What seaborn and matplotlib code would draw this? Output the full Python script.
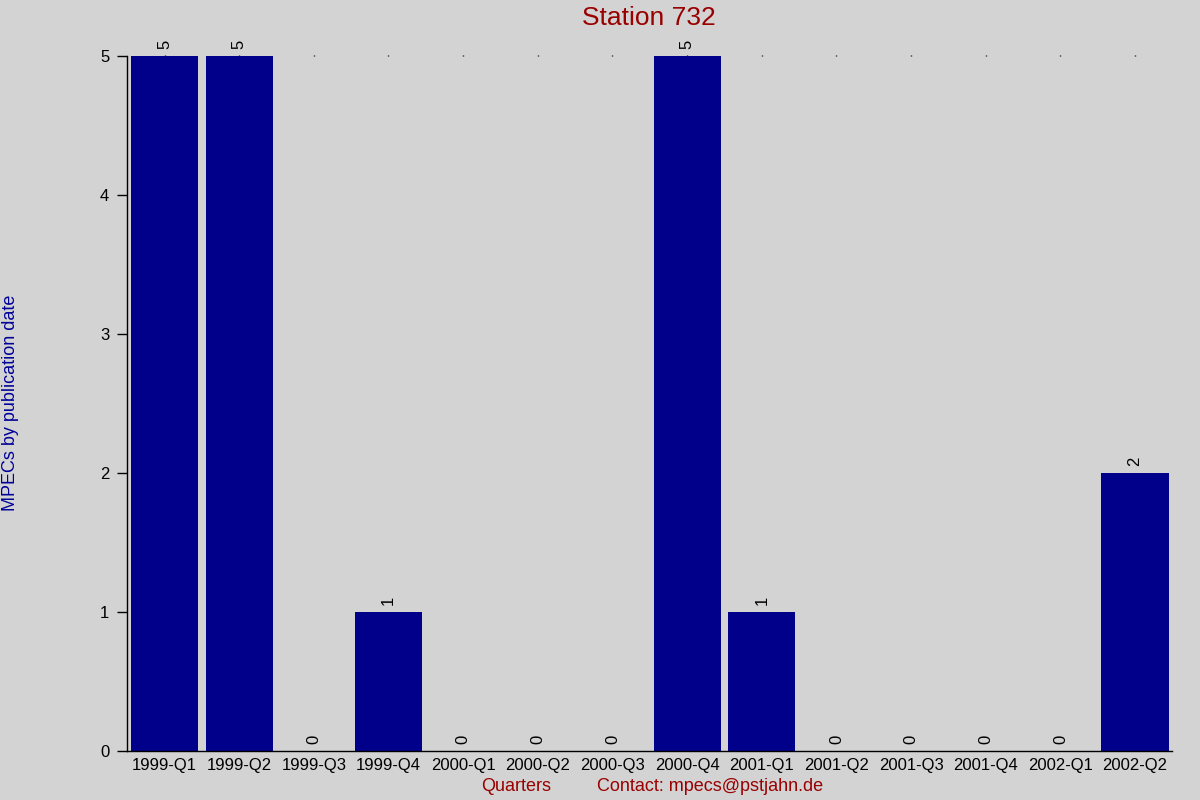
import numpy as np
import pandas as pd
import matplotlib
matplotlib.use("Agg")
import matplotlib.pyplot as plt
import seaborn as sns

quarters = ["1999-Q1", "1999-Q2", "1999-Q3", "1999-Q4", "2000-Q1", "2000-Q2", "2000-Q3",
            "2000-Q4", "2001-Q1", "2001-Q2", "2001-Q3", "2001-Q4", "2002-Q1", "2002-Q2"]
counts = [5, 5, 0, 1, 0, 0, 0, 5, 1, 0, 0, 0, 0, 2]

df = pd.DataFrame({"quarter": quarters, "mpecs": counts})

sns.set_style("ticks", {"axes.facecolor": "#d3d3d3", "figure.facecolor": "#d3d3d3"})
plt.rcParams["font.family"] = ["Liberation Sans", "DejaVu Sans"]

fig = plt.figure(figsize=(12, 8), dpi=100)
ax = fig.add_axes([0.106, 0.061, 0.871, 0.869])

sns.barplot(data=df, x="quarter", y="mpecs", color="#00008b", saturation=1,
            width=0.9, linewidth=0, ax=ax)

for c in ax.containers:
    ax.bar_label(c, labels=[str(v) for v in counts], rotation=90, padding=5,
                 fontsize=12, color="black")

ax.set_xlim(-0.5, 13.5)
ax.set_ylim(0, 5)
ax.set_yticks([0, 1, 2, 3, 4, 5])
ax.set_xlabel("")
ax.set_ylabel("")
ax.tick_params(axis="y", length=7, width=1, labelsize=12, pad=6, color="black",
               labelcolor="black")
ax.tick_params(axis="x", bottom=False, top=True, length=1, width=1, labelsize=12, pad=4,
               color="black", labelcolor="black")
sns.despine(ax=ax, top=True, right=True)
for s in ["left", "bottom"]:
    ax.spines[s].set_color("black")
    ax.spines[s].set_linewidth(1)

fig.text(0.541, 0.977, "Station 732", ha="center", va="center", fontsize=19, color="#990000")
fig.text(0.009, 0.496, "MPECs by publication date", rotation=90, ha="center", va="center",
         fontsize=13, color="#000099")
fig.text(0.43, 0.017, "Quarters", ha="center", va="center", fontsize=13, color="#990000")
fig.text(0.592, 0.017, "Contact: mpecs@pstjahn.de", ha="center", va="center", fontsize=13,
         color="#990000")

fig.savefig("out.png", dpi=100, facecolor=fig.get_facecolor())
